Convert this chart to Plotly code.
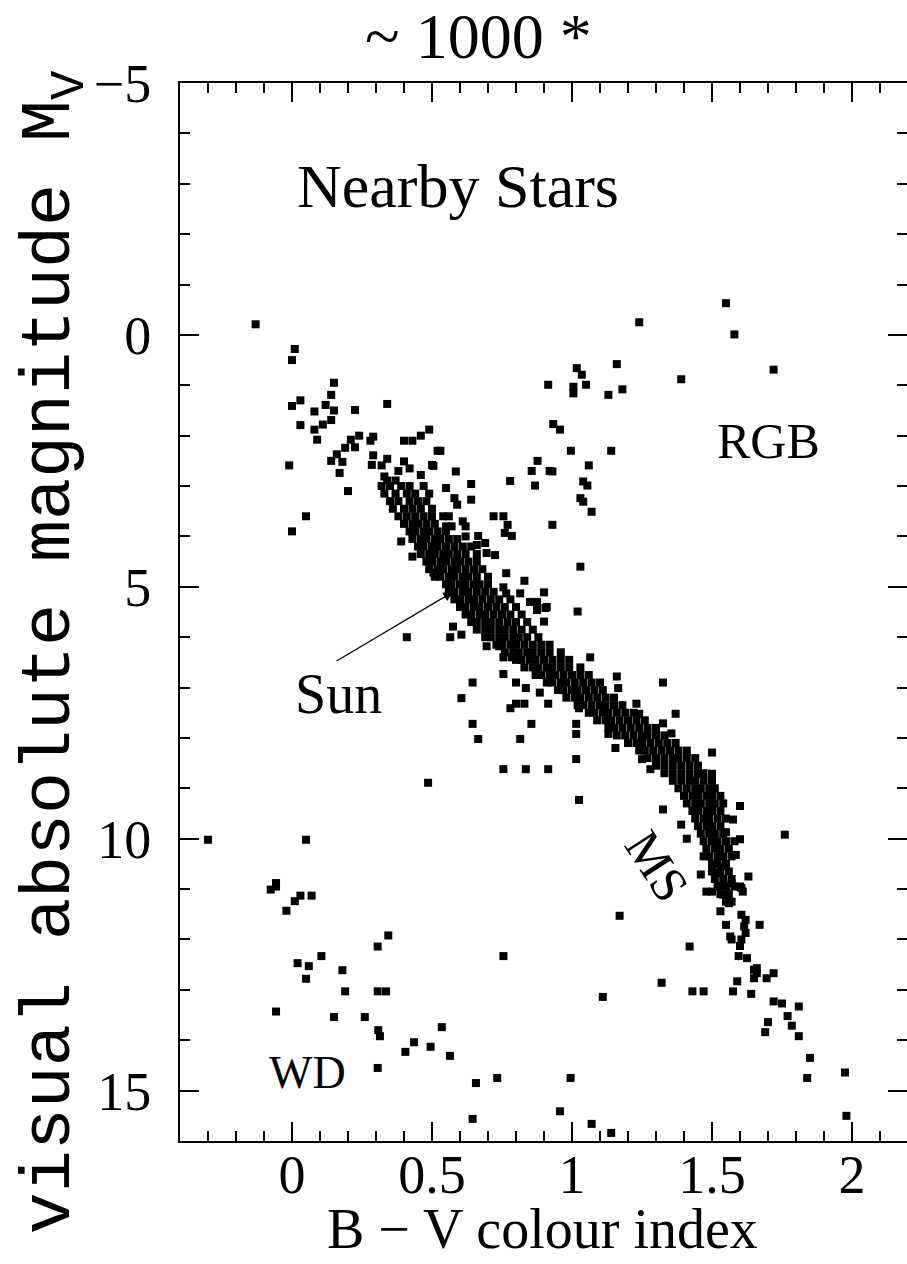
import plotly.graph_objects as go

# Colour-magnitude (Hertzsprung-Russell) diagram of the nearby stars.
# Every star is a (B-V, M_V) pair.

# Dense main-sequence band, written row by row: M_V of each row and the B-V values in it
ms_row_mv = [3.0, 3.15, 3.3, 3.45, 3.6, 3.75, 3.9, 4.05, 4.2, 4.35, 4.5, 4.65, 4.8, 4.95,
             5.1, 5.25, 5.4, 5.55, 5.7, 5.85, 6.0, 6.15, 6.3, 6.45, 6.6, 6.75, 6.9, 7.05,
             7.2, 7.35, 7.5, 7.65, 7.8, 7.95, 8.1, 8.25, 8.4, 8.55, 8.7, 8.85, 9.0, 9.15,
             9.3, 9.45, 9.6, 9.75, 9.9, 10.05, 10.2, 10.35, 10.5, 10.65, 10.8, 10.95, 11.1, 11.25]
ms_row_bv = [
    [0.32, 0.35, 0.39, 0.42, 0.47],
    [0.33, 0.37, 0.41, 0.44, 0.49],
    [0.35, 0.38, 0.42, 0.45, 0.48],
    [0.36, 0.40, 0.43, 0.46, 0.50],
    [0.38, 0.41, 0.44, 0.47, 0.50],
    [0.40, 0.43, 0.45, 0.48, 0.51],
    [0.42, 0.44, 0.47, 0.49, 0.52, 0.55],
    [0.43, 0.46, 0.48, 0.51, 0.53, 0.56, 0.59],
    [0.45, 0.47, 0.50, 0.52, 0.55, 0.58, 0.61, 0.64],
    [0.46, 0.49, 0.51, 0.54, 0.56, 0.59, 0.62, 0.66],
    [0.48, 0.50, 0.53, 0.55, 0.58, 0.60, 0.63, 0.66],
    [0.49, 0.52, 0.54, 0.57, 0.59, 0.62, 0.65, 0.68],
    [0.51, 0.53, 0.56, 0.58, 0.61, 0.63, 0.66, 0.70],
    [0.55, 0.57, 0.60, 0.62, 0.65, 0.67, 0.70],
    [0.56, 0.58, 0.61, 0.63, 0.66, 0.69, 0.72],
    [0.58, 0.60, 0.63, 0.65, 0.68, 0.71, 0.74, 0.78],
    [0.60, 0.62, 0.65, 0.67, 0.70, 0.73, 0.76, 0.80],
    [0.62, 0.64, 0.67, 0.69, 0.72, 0.75, 0.78, 0.82],
    [0.64, 0.66, 0.69, 0.71, 0.74, 0.77, 0.80, 0.84],
    [0.66, 0.69, 0.71, 0.74, 0.76, 0.79, 0.82, 0.86],
    [0.69, 0.71, 0.74, 0.76, 0.79, 0.81, 0.84, 0.88],
    [0.73, 0.75, 0.78, 0.80, 0.83, 0.86, 0.89, 0.92],
    [0.76, 0.79, 0.81, 0.84, 0.86, 0.89, 0.92, 0.96],
    [0.80, 0.82, 0.85, 0.87, 0.90, 0.93, 0.96, 0.99],
    [0.83, 0.86, 0.88, 0.91, 0.93, 0.96, 0.99, 1.03],
    [0.87, 0.89, 0.92, 0.94, 0.97, 1.00, 1.03, 1.06],
    [0.91, 0.93, 0.96, 0.98, 1.01, 1.04, 1.07, 1.10],
    [0.95, 0.97, 1.00, 1.02, 1.05, 1.08, 1.11],
    [0.98, 1.01, 1.03, 1.06, 1.09, 1.12, 1.15],
    [1.02, 1.04, 1.07, 1.10, 1.12, 1.15, 1.18],
    [1.06, 1.08, 1.11, 1.13, 1.16, 1.19, 1.22],
    [1.09, 1.12, 1.14, 1.17, 1.20, 1.23, 1.26],
    [1.13, 1.15, 1.18, 1.21, 1.24, 1.27, 1.30],
    [1.16, 1.19, 1.22, 1.25, 1.27, 1.30, 1.33],
    [1.20, 1.23, 1.25, 1.28, 1.31, 1.34, 1.37],
    [1.24, 1.26, 1.29, 1.32, 1.35, 1.38, 1.41],
    [1.27, 1.30, 1.33, 1.36, 1.38, 1.41, 1.44],
    [1.30, 1.33, 1.36, 1.39, 1.42, 1.45],
    [1.33, 1.36, 1.39, 1.42, 1.45, 1.47],
    [1.36, 1.39, 1.42, 1.44, 1.47, 1.50],
    [1.38, 1.41, 1.44, 1.46, 1.49, 1.51],
    [1.40, 1.43, 1.45, 1.48, 1.50, 1.53],
    [1.41, 1.44, 1.46, 1.49, 1.51, 1.54],
    [1.43, 1.45, 1.48, 1.50, 1.53],
    [1.44, 1.47, 1.49, 1.52, 1.55],
    [1.45, 1.48, 1.50, 1.53],
    [1.46, 1.49, 1.51, 1.54],
    [1.47, 1.50, 1.52, 1.55, 1.58],
    [1.48, 1.51, 1.53, 1.56],
    [1.49, 1.52, 1.54, 1.57],
    [1.50, 1.52, 1.55],
    [1.50, 1.53, 1.56],
    [1.51, 1.54, 1.57],
    [1.52, 1.55, 1.58],
    [1.53, 1.56],
    [1.55, 1.57],
]

# Upper main sequence and turn-off region (B-V, M_V)
hot_stars = [
    (-0.13, -0.21), (0.01, 0.28), (0.00, 0.50), (0.15, 0.95), (0.14, 1.19), (0.03, 1.30),
    (0.00, 1.41), (0.12, 1.39), (0.08, 1.52), (0.15, 1.50), (0.225, 1.49), (0.34, 1.37),
    (0.03, 1.79), (0.11, 1.78), (0.08, 1.88), (0.14, 1.69), (0.09, 2.08), (0.49, 1.88),
    (0.46, 2.00), (0.43, 2.10), (0.40, 2.10), (0.52, 2.30), (0.24, 2.00), (0.29, 2.02),
    (0.28, 2.10), (0.21, 2.08), (0.225, 2.23), (0.19, 2.24), (0.16, 2.37), (0.14, 2.50),
    (0.18, 2.52), (0.17, 2.74), (-0.01, 2.59), (0.20, 3.10), (0.29, 2.39), (0.285, 2.58),
    (0.32, 2.59), (0.34, 2.46), (0.40, 2.51), (0.42, 2.65), (0.38, 2.70), (0.46, 2.78),
    (0.50, 2.58), (0.33, 2.81), (0.34, 2.89), (0.37, 2.89), (0.05, 3.60), (0.00, 3.90),
    (0.53, 2.30), (0.585, 2.71), (0.505, 2.60), (0.64, 2.96), (0.55, 3.04), (0.64, 3.27),
    (0.58, 3.24), (0.59, 3.37), (0.54, 3.60), (0.56, 3.60), (0.55, 3.80), (0.57, 3.80),
    (0.61, 3.70), (0.62, 3.80), (0.62, 4.00), (0.665, 3.99), (0.66, 4.17), (0.69, 4.13),
    (0.695, 4.33), (0.725, 4.37), (0.39, 4.10), (0.43, 4.40), (0.505, 4.72),
]

# Subgiants and red giants
giants = [
    (1.55, -0.63), (1.58, -0.01), (1.24, -0.25), (1.72, 0.69), (1.39, 0.88), (1.16, 0.58),
    (1.017, 0.66), (1.035, 0.79), (0.915, 0.99), (1.005, 1.03), (1.005, 1.16), (1.05, 0.99),
    (1.13, 1.19), (1.18, 1.08), (0.933, 1.77), (0.957, 1.88), (0.996, 2.30), (1.14, 2.30),
    (0.877, 2.50), (0.856, 2.70), (0.92, 2.70), (0.93, 2.71), (1.06, 2.59), (0.779, 2.90),
    (0.868, 2.99), (1.04, 2.91), (1.055, 2.99), (1.03, 3.24), (1.04, 3.31), (1.07, 3.51),
    (0.72, 3.60), (0.755, 3.60), (0.77, 3.77), (0.76, 3.93), (0.785, 3.99), (0.93, 3.77),
    (1.03, 4.60),
]

# Stars scattered on the red side of the band
above_ms = [
    (0.765, 4.73), (0.83, 4.88), (0.90, 5.11), (0.755, 5.01), (0.765, 5.13), (0.815, 5.13),
    (0.85, 5.30), (0.875, 5.30), (0.875, 5.46), (0.905, 5.42), (1.02, 5.49), (0.91, 5.40),
    (0.90, 5.69), (1.065, 6.40), (1.325, 6.90), (1.37, 7.52), (1.16, 6.78), (1.165, 7.01),
    (1.23, 7.32), (1.24, 7.52), (1.325, 7.71), (1.355, 7.91), (1.50, 8.29), (1.50, 8.71),
    (1.60, 9.35), (1.575, 9.62), (1.60, 10.01), (1.55, 9.87), (1.76, 9.92), (1.585, 10.32),
    (1.63, 10.75), (1.605, 10.98), (1.67, 11.71),
]

# Stars scattered on the blue side of the band (subdwarfs etc.)
below_ms = [
    (0.41, 6.00), (0.575, 5.79), (0.565, 6.00), (0.605, 5.95), (0.695, 6.18), (0.74, 6.18),
    (0.755, 6.40), (0.785, 6.40), (0.755, 6.73), (0.645, 6.90), (0.80, 6.90), (0.835, 7.01),
    (0.885, 7.10), (0.605, 7.21), (0.78, 7.41), (0.80, 7.32), (0.83, 7.32), (0.915, 7.32),
    (0.645, 7.72), (0.855, 7.72), (0.665, 8.02), (0.815, 8.02), (0.755, 8.62), (0.835, 8.62),
    (0.915, 8.62), (0.486, 8.89), (1.025, 7.41), (1.015, 7.72), (1.015, 7.92), (1.015, 8.42),
    (1.025, 9.23), (1.13, 7.92), (1.155, 8.20), (1.25, 8.42), (1.28, 8.62), (1.325, 9.42),
    (1.39, 9.72), (1.41, 10.0), (1.46, 10.71), (1.47, 10.35), (1.48, 11.05), (1.50, 11.05),
    (1.17, 11.53), (0.755, 12.33), (1.42, 12.14), (1.32, 12.86), (1.43, 13.03), (1.47, 13.03),
    (1.11, 13.14),
]

# Faint red dwarfs at the bottom of the main sequence
red_dwarfs = [
    (1.52, 10.68), (1.535, 10.55), (1.53, 10.95), (1.54, 11.11), (1.56, 11.28), (1.57, 10.88),
    (1.60, 10.95), (1.61, 11.05), (1.53, 11.44), (1.605, 11.51), (1.62, 11.61), (1.615, 11.74),
    (1.62, 11.87), (1.605, 12.0), (1.60, 12.13), (1.55, 11.71), (1.565, 11.94), (1.57, 12.0),
    (1.595, 12.33), (1.625, 12.37), (1.66, 12.57), (1.65, 12.6), (1.66, 12.67), (1.65, 12.77),
    (1.695, 12.77), (1.72, 12.67), (1.59, 12.83), (1.575, 13.03), (1.64, 13.08), (1.72, 13.23),
    (1.75, 13.27), (1.81, 13.33), (1.70, 13.64), (1.69, 13.84), (1.77, 13.52), (1.785, 13.71),
    (1.81, 13.92), (1.85, 14.35), (1.84, 14.75), (1.975, 14.64), (1.98, 15.50),
]

# White dwarfs and faint blue stars
white_dwarfs = [
    (-0.30, 10.02), (0.05, 10.02), (-0.076, 11.01), (-0.057, 10.88), (-0.057, 10.95),
    (-0.02, 11.43), (0.01, 11.24), (0.03, 11.13), (0.07, 11.13), (-0.057, 13.43),
    (0.02, 12.47), (0.06, 12.53), (0.05, 12.78), (0.105, 12.33), (0.18, 12.61), (0.19, 13.03),
    (0.15, 13.54), (0.26, 13.54), (0.306, 12.14), (0.344, 11.92), (0.306, 13.03),
    (0.336, 13.03), (0.308, 13.80), (0.314, 13.92), (0.306, 14.55), (0.405, 14.23),
    (0.436, 14.04), (0.495, 14.13), (0.535, 13.74), (0.564, 14.31), (0.657, 14.85),
    (0.733, 14.75), (0.645, 15.56), (0.995, 14.75), (0.957, 15.41), (1.07, 15.66),
    (1.14, 15.84),
]

# The Sun on the diagram and where its label sits
sun_bv, sun_mv = 0.575, 5.10
sun_label_bv, sun_label_mv = 0.154, 6.49

bv, mv = [], []
for m, row in zip(ms_row_mv, ms_row_bv):
    for c in row:
        bv.append(c)
        mv.append(m)
for group in (hot_stars, giants, above_ms, below_ms, red_dwarfs, white_dwarfs):
    for c, m in group:
        bv.append(c)
        mv.append(m)

serif = "Liberation Serif, Times New Roman, serif"
mono = "Liberation Mono, DejaVu Sans Mono, monospace"

fig = go.Figure()
fig.add_trace(go.Scatter(
    x=bv, y=mv, mode="markers",
    marker=dict(symbol="square", size=8, color="black", line=dict(width=0)),
    hoverinfo="skip", showlegend=False,
))
# empty trace so the right-hand tick axis is drawn
fig.add_trace(go.Scatter(x=[None], y=[None], yaxis="y2", showlegend=False, hoverinfo="skip"))

tick_common = dict(ticks="inside", tickcolor="black", tickwidth=2, ticklen=19,
                   showgrid=False, zeroline=False)

fig.update_layout(
    width=907, height=1264,
    margin=dict(l=180, r=0, t=83, b=123),
    plot_bgcolor="white", paper_bgcolor="white",
    showlegend=False,
    xaxis=dict(
        range=[-0.4, 2.1964], tick0=0, dtick=0.5,
        showline=True, linecolor="black", linewidth=2, mirror="ticks",
        minor=dict(tick0=0, dtick=0.1, ticks="inside", ticklen=10, tickwidth=2,
                   tickcolor="black", showgrid=False),
        tickfont=dict(family=serif, size=54, color="black"),
        ticklabelstandoff=-15,
        **tick_common,
    ),
    yaxis=dict(
        range=[16, -5], tick0=0, dtick=5,
        showline=True, linecolor="black", linewidth=2,
        minor=dict(tick0=0, dtick=1, ticks="inside", ticklen=10, tickwidth=2,
                   tickcolor="black", showgrid=False),
        tickfont=dict(family=serif, size=54, color="black"),
        ticklabelstandoff=16,
        **tick_common,
    ),
    yaxis2=dict(
        range=[16, -5], tick0=0, dtick=5, overlaying="y", side="right",
        showline=False, showticklabels=False,
        minor=dict(tick0=0, dtick=1, ticks="inside", ticklen=10, tickwidth=2,
                   tickcolor="black", showgrid=False),
        **tick_common,
    ),
)

annotations = [
    dict(text="~ 1000 *", xref="paper", yref="paper", x=0.410, y=1.0435,
         xanchor="center", yanchor="middle", showarrow=False,
         font=dict(family=serif, size=64, color="black")),
    dict(text="B \u2212 V colour index", xref="paper", yref="paper", x=0.498, y=-0.0835,
         xanchor="center", yanchor="middle", showarrow=False,
         font=dict(family=serif, size=56, color="black")),
    dict(text="visual absolute magnitude M<sub>V</sub>", xref="paper", yref="paper",
         x=-0.172, y=0.462, xanchor="center", yanchor="middle", textangle=-90,
         showarrow=False, font=dict(family=mono, size=70, color="black")),
    dict(text="Nearby Stars", x=0.011, y=-2.96, xanchor="left", yanchor="middle",
         showarrow=False, font=dict(family=serif, size=62, color="black")),
    dict(text="RGB", x=1.511, y=2.10, xanchor="left", yanchor="middle",
         showarrow=False, font=dict(family=serif, size=50, color="black")),
    dict(text="Sun", x=0.004, y=7.12, xanchor="left", yanchor="middle",
         showarrow=False, font=dict(family=serif, size=56, color="black")),
    dict(text="WD", x=-0.089, y=14.64, xanchor="left", yanchor="middle",
         showarrow=False, font=dict(family=serif, size=46, color="black")),
    dict(text="MS", x=1.304, y=10.54, xanchor="center", yanchor="middle", textangle=57,
         showarrow=False, font=dict(family=serif, size=50, color="black")),
    dict(text="", x=sun_bv, y=sun_mv, ax=sun_label_bv, ay=sun_label_mv,
         axref="x", ayref="y", showarrow=True, arrowhead=2, arrowsize=1.6,
         arrowwidth=1.2, arrowcolor="black"),
]
fig.update_layout(annotations=annotations)

fig.write_html("out.html")
